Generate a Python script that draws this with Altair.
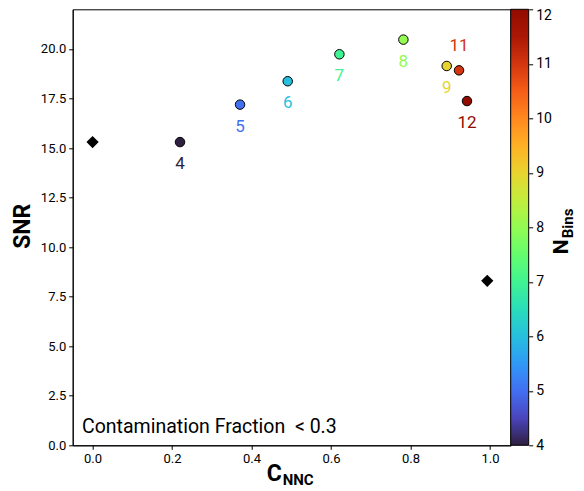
import altair as alt
import pandas as pd

# Data
nbins = [4, 5, 6, 7, 8, 9, 11, 12]
cnnc = [0.220, 0.371, 0.491, 0.621, 0.782, 0.891, 0.922, 0.942]
snr = [15.30, 17.19, 18.37, 19.73, 20.47, 19.14, 18.92, 17.37]

ref_cnnc = [0.0, 0.993]
ref_snr = [15.30, 8.30]

x_ticks = [0.0, 0.2, 0.4, 0.6, 0.8, 1.0]
y_ticks = [0.0, 2.5, 5.0, 7.5, 10.0, 12.5, 15.0, 17.5, 20.0]
cbar_ticks = [4, 5, 6, 7, 8, 9, 10, 11, 12]

FONT = "Roboto"
W, H = 438, 436

pts = pd.DataFrame({"cnnc": cnnc, "snr": snr, "nb": nbins})
refs = pd.DataFrame({"cnnc": ref_cnnc, "snr": ref_snr})

xsc = alt.Scale(domain=[-0.05, 1.052], nice=False, zero=False)
ysc = alt.Scale(domain=[0, 22], nice=False, zero=False)
csc = alt.Scale(scheme=alt.SchemeParams(name="turbo", extent=[0.012, 1]), domain=[4, 12])

X = alt.X("cnnc:Q", scale=xsc,
          axis=alt.Axis(values=x_ticks, format=".1f", title=None))
Y = alt.Y("snr:Q", scale=ysc,
          axis=alt.Axis(values=y_ticks, format=".1f", title=None))

points = alt.Chart(pts).mark_circle(size=90, stroke="black", strokeWidth=1, opacity=1).encode(
    x=X, y=Y,
    color=alt.Color("nb:Q", scale=csc,
                    legend=alt.Legend(orient="none", legendX=W, legendY=0,
                                      direction="vertical", title=None,
                                      gradientLength=H, gradientThickness=18,
                                      gradientStrokeColor="black", gradientStrokeWidth=1,
                                      labelOpacity=0, labelExpr="''", labelFontSize=1,
                                      padding=0, offset=0)),
)

diamonds = alt.Chart(refs).mark_point(shape="diamond", filled=True, size=150,
                                      color="black", opacity=1).encode(x=X, y=Y)

labels_below = alt.Chart(pts).transform_filter(alt.datum.nb != 11).mark_text(
    font=FONT, fontSize=17, dy=22, baseline="middle", align="center"
).encode(x=X, y=Y, text="nb:Q", color=alt.Color("nb:Q", scale=csc, legend=None))

labels_above = alt.Chart(pts).transform_filter(alt.datum.nb == 11).mark_text(
    font=FONT, fontSize=17, dy=-24, baseline="middle", align="center"
).encode(x=X, y=Y, text="nb:Q", color=alt.Color("nb:Q", scale=csc, legend=None))

one = pd.DataFrame({"a": [0]})

annot = alt.Chart(one).mark_text(
    text="Contamination Fraction\u00a0\u00a0<\u00a00.3", font=FONT, fontSize=19.5,
    align="left", baseline="alphabetic", color="black"
).encode(x=alt.value(9.3), y=alt.value(424))

snr_title = alt.Chart(one).mark_text(
    text="SNR", font=FONT, fontSize=23, fontWeight="bold", angle=270,
    align="center", baseline="alphabetic", color="black"
).encode(x=alt.value(-42.5), y=alt.value(217))

c_title = alt.Chart(one).mark_text(
    text="C", font=FONT, fontSize=23, fontWeight="bold",
    align="left", baseline="alphabetic", color="black"
).encode(x=alt.value(194), y=alt.value(472))

nnc_title = alt.Chart(one).mark_text(
    text="NNC", font=FONT, fontSize=15, fontWeight="bold",
    align="left", baseline="alphabetic", color="black"
).encode(x=alt.value(210), y=alt.value(476))

n_title = alt.Chart(one).mark_text(
    text="N", font=FONT, fontSize=21, fontWeight="bold", angle=270,
    align="left", baseline="alphabetic", color="black"
).encode(x=alt.value(495), y=alt.value(245))

bins_title = alt.Chart(one).mark_text(
    text="Bins", font=FONT, fontSize=15, fontWeight="bold", angle=270,
    align="left", baseline="alphabetic", color="black"
).encode(x=alt.value(500.5), y=alt.value(229))

main = alt.layer(points, diamonds, labels_below, labels_above, annot,
                 snr_title, c_title, nnc_title, n_title, bins_title)

cb = pd.DataFrame({"nb": [4, 12]})
cbar_axis = alt.Chart(cb).mark_point(opacity=0).encode(
    x=alt.value(W + 9),
    y=alt.Y("nb:Q", scale=alt.Scale(domain=[4, 12], nice=False, zero=False),
            axis=alt.Axis(orient="right", offset=18, values=cbar_ticks, format="d",
                          title=None, domain=False, tickSize=4, labelFontSize=14,
                          labelPadding=3,
                          labelOffset={"condition": {"test": "datum.value == 12", "value": 6},
                                       "value": 0})),
)

chart = alt.layer(main, cbar_axis).resolve_scale(y="independent").properties(
    width=W, height=H,
    autosize=alt.AutoSizeParams(type="none"),
    padding={"left": 64.7, "top": 1.3, "right": 65.3, "bottom": 45.7},
).configure_view(stroke="black", strokeWidth=1).configure_axis(
    grid=False, domainColor="black", tickColor="black", labelColor="black",
    labelFont=FONT, labelFontSize=13, tickSize=4, domainWidth=1, tickWidth=1,
    labelPadding=3,
)

chart.save("out.html", embed_options={"renderer": "svg", "actions": False})
